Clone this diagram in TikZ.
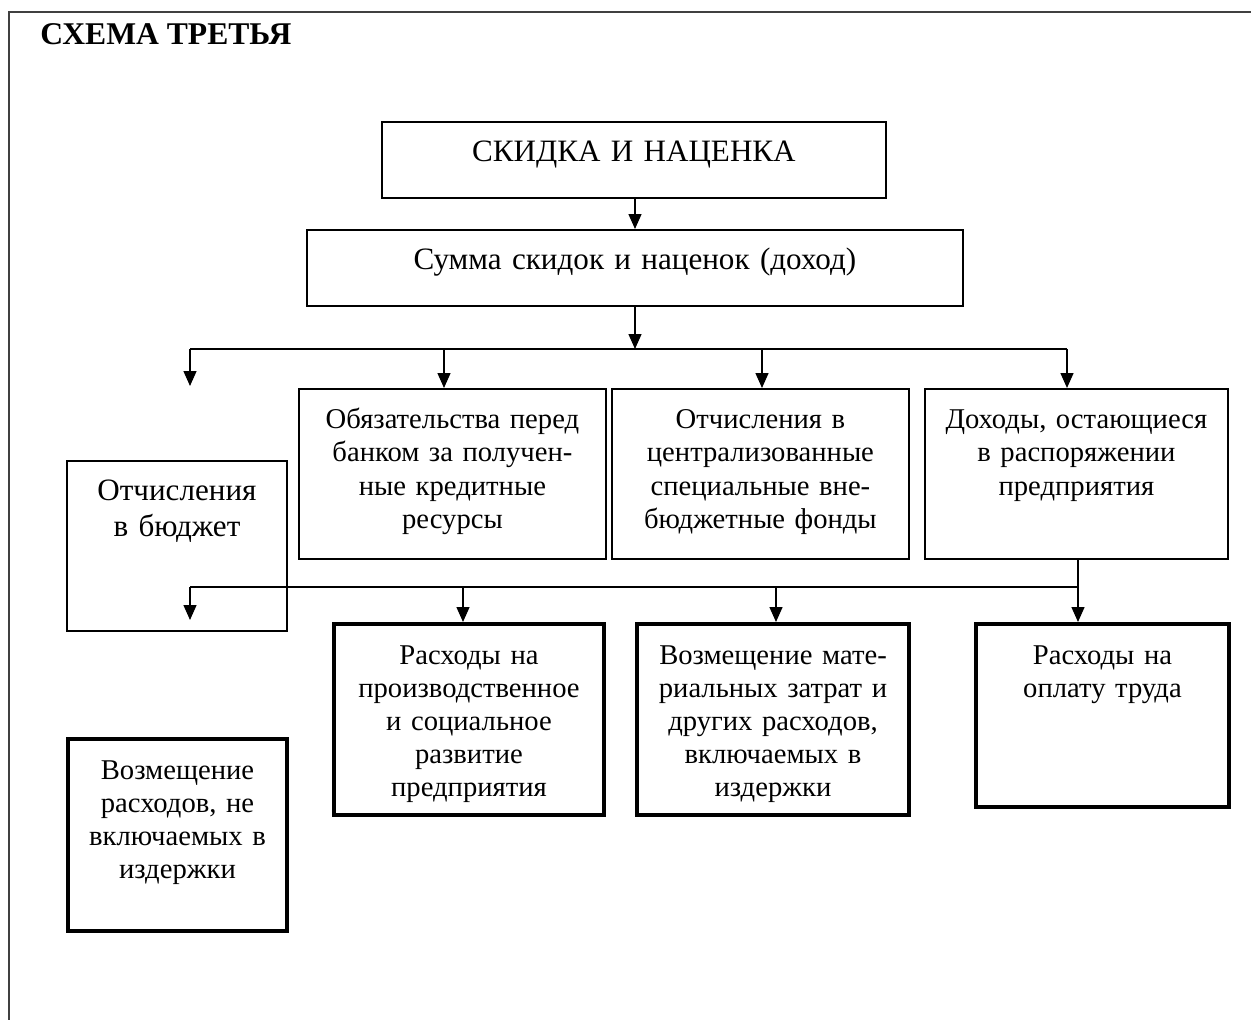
\documentclass[tikz,border=0pt]{standalone}
\usepackage{fontspec}
\setmainfont{Liberation Serif}
\usetikzlibrary{arrows.meta,positioning}

\tikzset{
  blk/.style={draw, line width=1.1pt, inner sep=0pt, align=center, anchor=north west, text height=0.8cm, font=\fontsize{16.3}{18.8}\selectfont},
  blkb/.style={blk, line width=2.3pt},
  big/.style={font=\fontsize{17.7}{20.5}\selectfont},
  arr/.style={-{Triangle[length=0.3cm,width=0.26cm]}, line width=0.8pt},
  ln/.style={line width=0.8pt},
  frame/.style={draw=black!75, line width=1.2pt}
}

\begin{document}
\begin{tikzpicture}[x=0.02cm, y=-0.02cm]
    \useasboundingbox (0,0) rectangle (1251,1020);
    % рамка и заголовок
    \draw[frame] (9,1020) -- (9,12) -- (1251,12);
    \node[anchor=base west, inner sep=0pt, font=\bfseries\fontsize{18}{20}\selectfont] (title) at (40,45) {СХЕМА ТРЕТЬЯ};
    % верхние блоки
    \node[blk, big, text width=10.08cm, text depth=0.72cm] (k1) at (381,121) {СКИДКА И НАЦЕНКА};
    \node[blk, big, text width=13.12cm, text depth=0.72cm] (k2) at (306,229) {Сумма скидок и наценок (доход)};
    % второй уровень
    \node[blk, big, text width=4.4cm, text depth=2.6cm] (b3) at (66,460) {Отчисления\\в бюджет};
    \node[blk, text width=6.14cm, text depth=2.6cm] (b4) at (298,388) {Обязательства перед\\банком за получен-\\ные кредитные\\ресурсы};
    \node[blk, text width=5.94cm, text depth=2.6cm] (b5) at (611,388) {Отчисления в\\централизованные\\специальные вне-\\бюджетные фонды};
    \node[blk, text width=6.06cm, text depth=2.6cm] (b6) at (924,388) {Доходы, остающиеся\\в распоряжении\\предприятия};
    % третий уровень
    \node[blkb, text width=5.4cm, text depth=3.02cm] (c7) at (332,622) {Расходы на\\производственное\\и социальное\\развитие\\предприятия};
    \node[blkb, text width=5.44cm, text depth=3.02cm] (c8) at (635,622) {Возмещение мате-\\риальных затрат и\\других расходов,\\включаемых в\\издержки};
    \node[blkb, text width=5.06cm, text depth=2.86cm] (c9) at (974,622) {Расходы на\\оплату труда};
    \node[blkb, text width=4.38cm, text depth=3.04cm] (c10) at (66,737) {Возмещение\\расходов, не\\включаемых в\\издержки};
    % связи
    \coordinate (s1) at (635,349);
    \coordinate (s1l) at (190,349);
    \coordinate (s1r) at (1067,349);
    \coordinate (d4) at (444,349);
    \coordinate (d5) at (762,349);
    \coordinate (f1) at (190,386);
    \draw[arr] (s1 |- k1.south) -- (s1 |- k2.north);
    \draw[arr] (s1 |- k2.south) -- (s1);
    \draw[ln] (s1l) -- (s1r);
    \draw[arr] (s1l) -- (f1);
    \draw[arr] (d4) -- (d4 |- b4.north);
    \draw[arr] (d5) -- (d5 |- b5.north);
    \draw[arr] (s1r) -- (s1r |- b6.north);
    \coordinate (s2r) at (1078,587);
    \coordinate (s2l) at (190,587);
    \coordinate (d7) at (463,587);
    \coordinate (d8) at (776,587);
    \coordinate (f2) at (190,620);
    \draw[ln] (s2r |- b6.south) -- (s2r) -- (s2l);
    \draw[arr] (s2l) -- (f2);
    \draw[arr] (d7) -- (d7 |- c7.north);
    \draw[arr] (d8) -- (d8 |- c8.north);
    \draw[arr] (s2r) -- (s2r |- c9.north);
\end{tikzpicture}
\end{document}
